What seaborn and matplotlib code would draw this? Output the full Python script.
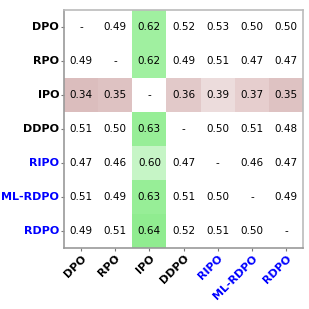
import numpy as np
import pandas as pd
import matplotlib
matplotlib.use("Agg")
import matplotlib.pyplot as plt
import seaborn as sns
from matplotlib.colors import LinearSegmentedColormap

methods = ["DPO", "RPO", "IPO", "DDPO", "RIPO", "ML-RDPO", "RDPO"]
blue_methods = ["RIPO", "ML-RDPO", "RDPO"]

row_DPO = [np.nan, 0.49, 0.62, 0.52, 0.53, 0.50, 0.50]
row_RPO = [0.49, np.nan, 0.62, 0.49, 0.51, 0.47, 0.47]
row_IPO = [0.34, 0.35, np.nan, 0.36, 0.39, 0.37, 0.35]
row_DDPO = [0.51, 0.50, 0.63, np.nan, 0.50, 0.51, 0.48]
row_RIPO = [0.47, 0.46, 0.60, 0.47, np.nan, 0.46, 0.47]
row_MLRDPO = [0.51, 0.49, 0.63, 0.51, 0.50, np.nan, 0.49]
row_RDPO = [0.49, 0.51, 0.64, 0.52, 0.51, 0.50, np.nan]

data = pd.DataFrame([row_DPO, row_RPO, row_IPO, row_DDPO, row_RIPO, row_MLRDPO, row_RDPO],
                    index=methods, columns=methods)
annot = data.map(lambda v: "-" if np.isnan(v) else f"{v:.2f}")
# diagonal (self vs self) shown as neutral 0.5 -> white
color_data = data.fillna(0.5)

vmin, vmax = 0.30, 0.70
def pos(v):
    return (v - vmin) / (vmax - vmin)

nodes = [
    (pos(0.30), (205/255, 165/255, 165/255)),
    (pos(0.34), (219/255, 189/255, 189/255)),
    (pos(0.37), (230/255, 207/255, 207/255)),
    (pos(0.39), (236/255, 220/255, 220/255)),
    (pos(0.43), (1, 1, 1)),
    (pos(0.585), (1, 1, 1)),
    (pos(0.60), (200/255, 245/255, 200/255)),
    (pos(0.62), (160/255, 240/255, 160/255)),
    (pos(0.64), (144/255, 236/255, 144/255)),
    (pos(0.70), (120/255, 228/255, 120/255)),
]
cmap = LinearSegmentedColormap.from_list("wr", nodes)

fig = plt.figure(figsize=(3.09, 3.09), dpi=100)
ax = fig.add_axes([0.207, 0.197, 0.774, 0.771])
sns.heatmap(color_data, annot=annot, fmt="", cmap=cmap, vmin=vmin, vmax=vmax, cbar=False,
            ax=ax, annot_kws={"fontsize": 7.5, "color": "black"})
ax.set_facecolor("white")
for s in ax.spines.values():
    s.set_visible(True)
    s.set_color("#999999")
    s.set_linewidth(1.2)
ax.spines["top"].set_color("#bbbbbb")
ax.spines["right"].set_color("#bbbbbb")

ax.tick_params(axis="both", length=2, color="#777777", width=0.8, pad=1.5)
ax.set_xticklabels(methods, rotation=45, ha="right", rotation_mode="anchor",
                   fontsize=8, fontweight="bold")
ax.set_yticklabels(methods, rotation=0, fontsize=8, fontweight="bold")
for lbl in ax.get_xticklabels() + ax.get_yticklabels():
    if lbl.get_text() in blue_methods:
        lbl.set_color("blue")
ax.set_xlabel("")
ax.set_ylabel("")

fig.savefig("out.png", dpi=100)
